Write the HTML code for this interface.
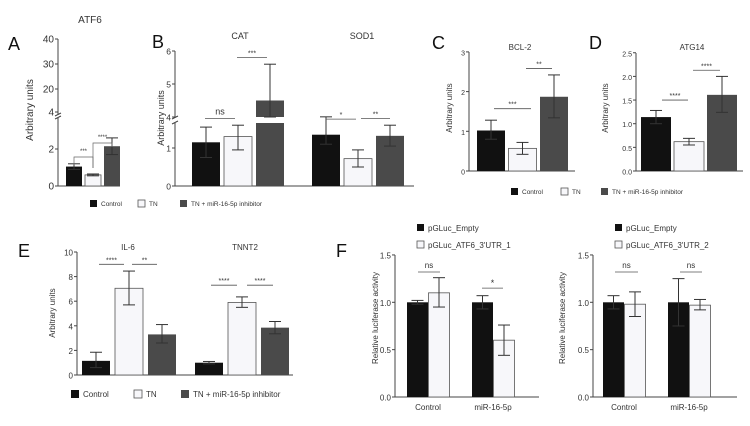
<!DOCTYPE html>
<html><head><meta charset="utf-8"><style>
html,body{margin:0;padding:0;background:#fff;}
svg{display:block;font-family:"Liberation Sans",sans-serif;}
</style></head><body>
<svg id="fig" width="750" height="426" viewBox="0 0 750 426" xmlns="http://www.w3.org/2000/svg"></svg>
<script>
// ---- data ----
const groupColors = ['#111111', '#f7f7fa', '#4a4a4a'];
const legendLabels = ['Control', 'TN', 'TN + miR-16-5p inhibitor'];
// A: ATF6
const aValues = [1.05, 0.6, 2.15];
const aLow = [0.9, 0.55, 1.7];
const aHigh = [1.2, 0.65, 2.6];
const aTicksLow = [0, 2, 4];
const aTicksHigh = [20, 30, 40];
// B: CAT, SOD1
const bCategories = ['CAT', 'SOD1'];
const bValues = [[1.15, 1.3, 4.5], [1.35, 0.72, 1.32]];
const bLow = [[0.75, 0.95, 4.0], [1.1, 0.5, 1.05]];
const bHigh = [[1.55, 1.6, 5.6], [1.82, 0.95, 1.6]];
const bTicksLow = [0, 1];
const bTicksHigh = [4, 5, 6];
// C: BCL-2
const cValues = [1.02, 0.57, 1.87];
const cLow = [0.8, 0.42, 1.34];
const cHigh = [1.28, 0.72, 2.42];
const cTicks = [0, 1, 2, 3];
// D: ATG14
const dValues = [1.14, 0.62, 1.61];
const dLow = [1.0, 0.55, 1.24];
const dHigh = [1.28, 0.69, 2.0];
const dTicks = [0, 0.5, 1.0, 1.5, 2.0, 2.5];
// E: IL-6, TNNT2
const eCategories = ['IL-6', 'TNNT2'];
const eValues = [[1.15, 7.05, 3.3], [1.0, 5.9, 3.85]];
const eLow = [[0.6, 5.7, 2.6], [0.9, 5.5, 3.35]];
const eHigh = [[1.85, 8.45, 4.1], [1.1, 6.35, 4.35]];
const eTicks = [0, 2, 4, 6, 8, 10];
// F: luciferase
const fCategories = ['Control', 'miR-16-5p'];
const f1Values = [[1.0, 1.1], [1.0, 0.6]];
const f1Low = [[0.98, 0.95], [0.93, 0.44]];
const f1High = [[1.02, 1.26], [1.07, 0.76]];
const f2Values = [[1.0, 0.98], [1.0, 0.97]];
const f2Low = [[0.93, 0.85], [0.75, 0.92]];
const f2High = [[1.07, 1.11], [1.25, 1.03]];
const fTicks = [0, 0.5, 1.0, 1.5];

// ---- helpers ----
const NS = 'http://www.w3.org/2000/svg';
const svg = document.getElementById('fig');
function el(tag, attrs, parent) {
  const e = document.createElementNS(NS, tag);
  for (const k in attrs) e.setAttribute(k, attrs[k]);
  (parent || svg).appendChild(e);
  return e;
}
function txt(x, y, s, size, anchor, parent, extra) {
  const t = el('text', Object.assign({x: x, y: y, 'font-size': size, 'text-anchor': anchor || 'middle', fill: '#333'}, extra || {}), parent);
  t.textContent = s;
  return t;
}
function line(x1, y1, x2, y2, parent, w, c) {
  return el('line', {x1: x1, y1: y1, x2: x2, y2: y2, stroke: c || '#444', 'stroke-width': w || 1}, parent);
}
function rect(x, y, w, h, fill, parent) {
  return el('rect', {x: x, y: y, width: w, height: h, fill: fill, stroke: fill === '#f7f7fa' ? '#555' : 'none', 'stroke-width': 0.8}, parent);
}
function err(cx, y1, y2, parent) {
  const g = el('g', {}, parent);
  
  
  line(cx, y1, cx, y2, g, 1, '#333');
  line(cx - 6, y1, cx + 6, y1, g, 1, '#333');
  line(cx - 6, y2, cx + 6, y2, g, 1, '#333');
}
function sig(x1, x2, y, label, parent, sz) {
  const g = el('g', {}, parent);
  
  
  line(x1, y, x2, y, g, 0.8, '#555');
  txt((x1 + x2) / 2, label === 'ns' ? y - 4 : y - 2, label, sz || 7, 'middle', g);
}
function panel(name) {
  const g = el('g', {});
  
  
  return g;
}
function letter(x, y, s) {
  const t = txt(x, y, s, 18, 'start', null, {fill: '#111'});
  
  
}
function ytitle(x, y, s, parent, size) {
  const t = txt(x, y, s, size || 9, 'middle', parent, {transform: 'rotate(-90 ' + x + ' ' + y + ')'});
  
  
}
function yticks(ax, ticks, sc, parent, fmt, size) {
  ticks.forEach(v => {
    const y = sc(v);
    line(ax - 3, y, ax, y, parent);
    const t = txt(ax - 4, y + 3.5, fmt ? v.toFixed(1) : String(v), size || 8, 'end', parent);
    
    
  });
}
function legend(items, x, y, gaps, parent, size, sq) {
  const g = el('g', {}, parent);
  
  
  items.forEach((s, i) => {
    const e = el('g', {}, g);
    
    
    rect(x[i], y[i] - sq + 1, sq, sq, groupColors[i], e);
    txt(x[i] + sq + 4, y[i], s, size, 'start', e);
  });
}

// ---- Panel A ----
letter(8, 50, 'A');
{
  const g = panel('panel-a-atf6');
  const ax = 58;
  const ys = v => v <= 5 ? 186 - v * 18.5 : 89 - (v - 20) * 2.5;
  txt(90, 23, 'ATF6', 10, 'middle', g);
  line(ax, 186, ax, 118, g); line(ax, 115, ax, 39, g);
  line(ax - 3, 119, ax + 3, 116, g); line(ax - 3, 116, ax + 3, 113, g);
  line(ax, 186, 120, 186, g);
  yticks(ax, aTicksLow, ys, g, false, 10); yticks(ax, aTicksHigh, ys, g, false, 10);
  ytitle(33, 110, 'Arbitrary units', g, 10);
  aValues.forEach((v, i) => {
    const x = 66 + i * 19;
    const b = rect(x, ys(v), 16, 186 - ys(v), groupColors[i], g);
    
    
    err(x + 8, ys(aHigh[i]), ys(aLow[i]), g);
  });
  const bx = i => 66 + i * 19 + 8;
  const g1 = el('g', {}, g);  
  el('polyline', {points: `${bx(0)},165 ${bx(0)},157 ${bx(1)},157 ${bx(1)},168`, fill: 'none', stroke: '#666', 'stroke-width': 0.7}, g1);
  txt((bx(0) + bx(1)) / 2, 153, '***', 6, 'middle', g1);
  const g2 = el('g', {}, g);  
  el('polyline', {points: `${bx(1)},168 ${bx(1)},143 ${bx(2)},143 ${bx(2)},147`, fill: 'none', stroke: '#666', 'stroke-width': 0.7}, g2);
  txt((bx(1) + bx(2)) / 2, 139, '****', 6, 'middle', g2);
}

// ---- Panel B ----
letter(152, 48, 'B');
{
  const g = panel('panel-b-cat-sod1');
  const ax = 175;
  const ys = v => v <= 2 ? 186 - v * 38 : 117 - (v - 4) * 33;
  line(ax, 186, ax, 123, g); line(ax, 117, ax, 51, g);
  line(ax - 3, 124, ax + 3, 121, g); line(ax - 3, 119, ax + 3, 116, g);
  line(ax, 186, 414, 186, g);
  yticks(ax, bTicksLow, ys, g, false, 8.5); yticks(ax, bTicksHigh, ys, g, false, 8.5);
  ytitle(164, 118, 'Arbitrary units', g, 9);
  const gx = [192, 312];
  bCategories.forEach((c, k) => {
    const t = txt(k === 0 ? 240 : 362, 39, c, 9, 'middle', g);
    
    
    bValues[k].forEach((v, i) => {
      const x = gx[k] + i * 32;
      let b;
      if (v > 4) {
        b = el('g', {}, g);
        rect(x, 123, 28, 63, groupColors[i], b);
        rect(x, ys(v), 28, 117 - ys(v), groupColors[i], b);
      } else {
        b = rect(x, ys(v), 28, 186 - ys(v), groupColors[i], g);
      }
      
      
      err(x + 14, ys(bHigh[k][i]), ys(bLow[k][i]), g);
    });
  });
  sig(205, 235, ys(1.78), 'ns', g, 9);
  sig(237, 267, ys(5.8), '***', g);
  sig(326, 356, ys(1.76), '*', g);
  sig(361, 390, ys(1.78), '**', g);
  legend(legendLabels, [90, 138, 180], [206, 206, 206], 0, g, 6.5, 7);
}

// ---- Panel C ----
letter(432, 49, 'C');
{
  const g = panel('panel-c-bcl2');
  const ax = 469;
  const ys = v => 171 - v * 39.7;
  txt(520, 50, 'BCL-2', 8, 'middle', g);
  line(ax, 171, ax, 52, g); line(ax, 171, 575, 171, g);
  yticks(ax, cTicks, ys, g, false, 7);
  ytitle(452, 108, 'Arbitrary units', g, 8);
  cValues.forEach((v, i) => {
    const x = 477 + i * 31.5;
    const b = rect(x, ys(v), 28, 171 - ys(v), groupColors[i], g);
    
    
    err(x + 14, ys(cHigh[i]), ys(cLow[i]), g);
  });
  sig(494, 531, ys(1.57), '***', g);
  sig(526, 552, ys(2.58), '**', g);
}

// ---- Panel D ----
letter(589, 49, 'D');
{
  const g = panel('panel-d-atg14');
  const ax = 636;
  const ys = v => 171 - v * 47.3;
  txt(692, 50, 'ATG14', 8, 'middle', g);
  line(ax, 171, ax, 53, g); line(ax, 171, 743, 171, g);
  yticks(ax, dTicks, ys, g, true, 7);
  ytitle(608, 108, 'Arbitrary units', g, 8);
  dValues.forEach((v, i) => {
    const x = 641 + i * 33;
    const b = rect(x, ys(v), 30, 171 - ys(v), groupColors[i], g);
    
    
    err(x + 15, ys(dHigh[i]), ys(dLow[i]), g);
  });
  sig(662, 688, ys(1.5), '****', g);
  sig(693, 720, ys(2.13), '****', g);
  legend(legendLabels, [511, 561, 601], [194, 194, 194], 0, g, 6.5, 7);
}

// ---- Panel E ----
letter(18, 257, 'E');
{
  const g = panel('panel-e-il6-tnnt2');
  const ax = 77;
  const ys = v => 375 - v * 12.3;
  line(ax, 375, ax, 252, g); line(ax, 375, 293, 375, g);
  yticks(ax, eTicks, ys, g, false, 8);
  ytitle(55, 313, 'Arbitrary units', g, 8);
  const gx = [82, 195];
  eCategories.forEach((c, k) => {
    const t = txt(k === 0 ? 128 : 245, 250, c, 8, 'middle', g);
    
    
    eValues[k].forEach((v, i) => {
      const x = gx[k] + i * 33;
      const b = rect(x, ys(v), 28, 375 - ys(v), groupColors[i], g);
      
      
      err(x + 14, ys(eHigh[k][i]), ys(eLow[k][i]), g);
    });
  });
  sig(99, 124, ys(9.0), '****', g);
  sig(132, 157, ys(9.0), '**', g);
  sig(211, 237, ys(7.3), '****', g);
  sig(247, 273, ys(7.3), '****', g);
  legend(legendLabels, [71, 134, 181], [397, 397, 397], 0, g, 8, 8);
}

// ---- Panel F ----
letter(336, 257, 'F');
function fChart(name, ax, gx, vals, lo, hi, sigs, legendX, legendText, titleX) {
  const g = panel(name);
  const ys = v => 397 - v * 94.7;
  line(ax, 397, ax, 255, g); line(ax, 397, ax + 144, 397, g);
  yticks(ax, fTicks, ys, g, true, 8);
  ytitle(titleX, 318, 'Relative luciferase activity', g, 8);
  fCategories.forEach((c, k) => {
    const t = txt(gx[k] + 21, 410, c, 8, 'middle', g);
    
    
    vals[k].forEach((v, i) => {
      const x = gx[k] + i * 21.5;
      const b = rect(x, ys(v), 21, 397 - ys(v), i === 0 ? '#111111' : '#f7f7fa', g);
      
      
      err(x + 10.5, ys(hi[k][i]), ys(lo[k][i]), g);
    });
  });
  sigs.forEach(s => sig(s[0], s[1], ys(s[2]), s[3], g, s[3] === 'ns' ? 8 : 9));
  const lg = el('g', {}, g);
  
  
  const e1 = el('g', {}, lg);  
  rect(legendX, 224, 7, 7, '#111111', e1);
  txt(legendX + 11, 231, 'pGLuc_Empty', 8, 'start', e1);
  const e2 = el('g', {}, lg);  
  rect(legendX, 241, 7, 7, '#f7f7fa', e2);
  txt(legendX + 11, 248, legendText, 8, 'start', e2);
}
fChart('panel-f-luciferase-utr1', 395, [407, 472], f1Values, f1Low, f1High,
  [[418, 440, 1.32, 'ns'], [482, 503, 1.15, '*']], 417, "pGLuc_ATF6_3'UTR_1", 378);
fChart('panel-f-luciferase-utr2', 593, [603, 668], f2Values, f2Low, f2High,
  [[615, 638, 1.32, 'ns'], [680, 702, 1.32, 'ns']], 615, "pGLuc_ATF6_3'UTR_2", 565);
</script>
</body></html>
